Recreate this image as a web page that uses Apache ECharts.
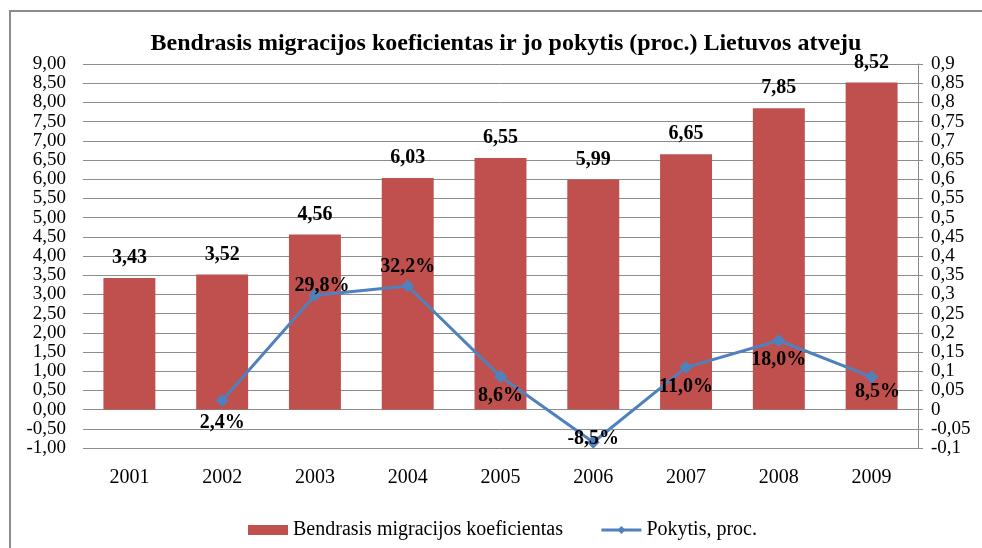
<!DOCTYPE html>
<html>
<head>
<meta charset="utf-8">
<script src="https://cdn.jsdelivr.net/npm/echarts@6/dist/echarts.min.js"></script>
<style>
  html, body { margin: 0; padding: 0; background: #fff; }
  #chart { width: 982px; height: 548px; }
</style>
</head>
<body>
<div id="chart"></div>
<script>
var years = ['2001', '2002', '2003', '2004', '2005', '2006', '2007', '2008', '2009'];
var koeficientas = [3.43, 3.52, 4.56, 6.03, 6.55, 5.99, 6.65, 7.85, 8.52];
var pokytis = [null, 0.024, 0.298, 0.322, 0.086, -0.085, 0.110, 0.180, 0.085];
// where each change label sits relative to its point
var pokytisLabelPos = [null, 'bottom', 'top', 'top', 'bottom', 'top', 'bottom', 'bottom', 'bottom'];

function comma(s) { return String(s).replace('.', ','); }

var lineData = pokytis.map(function (v, i) {
    if (v === null) return null;
    var item = { value: v, label: { position: pokytisLabelPos[i] } };
    if (i === 1) item.label.distance = 6;
    if (i === 2) { item.label.distance = -7; item.label.offset = [7, 0]; }
    if (i === 5) item.label.distance = -13;
    if (i === 8) { item.label.distance = -2; item.label.offset = [6, 0]; }
    return item;
});

var dom = document.getElementById('chart');
var myChart = echarts.init(dom);
var font = 'Liberation Serif';

var yLabel = {
    fontFamily: font, fontSize: 19, lineHeight: 12, color: '#000',
    showMinLabel: true, showMaxLabel: true, hideOverlap: false,
    textMargin: 0, minMargin: 0
};

var option = {
    animation: false,
    textStyle: { fontFamily: font },
    title: {
        text: 'Bendrasis migracijos koeficientas ir jo pokytis (proc.) Lietuvos atveju',
        left: 501, textAlign: 'center', top: 27,
        textStyle: { fontFamily: font, fontSize: 24, fontWeight: 'bold', color: '#000' }
    },
    legend: {
        top: 515, left: 243,
        itemWidth: 40, itemHeight: 10, itemGap: 37,
        textStyle: { fontFamily: font, fontSize: 20, color: '#000' },
        data: [
            { name: 'Bendrasis migracijos koeficientas', icon: 'rect' },
            { name: 'Pokytis, proc.', lineStyle: { width: 3 } }
        ]
    },
    graphic: [{
        type: 'rect', shape: { x: 10, y: 11, width: 990, height: 560 },
        style: { fill: 'none', stroke: '#8c8c8c', lineWidth: 2 }, silent: true
    }],
    grid: { left: 83, right: 64, top: 64, bottom: 100 },
    xAxis: {
        type: 'category', data: years,
        axisLine: { show: false }, axisTick: { show: false },
        axisLabel: { fontFamily: font, fontSize: 20, color: '#000', margin: 20 }
    },
    yAxis: [{
        type: 'value', min: -1, max: 9, interval: 0.5,
        axisLine: { show: false }, axisTick: { show: false },
        axisLabel: echarts.util.extend({ margin: 17,
            formatter: function (v) { return comma(v.toFixed(2)); } }, yLabel),
        splitLine: { lineStyle: { color: '#8c8c8c', width: 1 } }
    }, {
        type: 'value', min: -0.1, max: 0.9, interval: 0.05,
        axisLine: { show: true, lineStyle: { color: '#8c8c8c' } },
        axisTick: { show: true, length: 5, lineStyle: { color: '#8c8c8c' } },
        axisLabel: echarts.util.extend({ margin: 13,
            formatter: function (v) { return comma(parseFloat(v.toFixed(2))); } }, yLabel),
        splitLine: { show: false }
    }],
    series: [{
        name: 'Bendrasis migracijos koeficientas',
        type: 'bar', data: koeficientas, barWidth: '56%',
        itemStyle: { color: '#C0504D' },
        label: { show: true, position: 'top', distance: 10,
            fontFamily: font, fontSize: 20, fontWeight: 'bold', color: '#000',
            formatter: function (p) { return comma(p.value.toFixed(2)); } }
    }, {
        name: 'Pokytis, proc.',
        type: 'line', yAxisIndex: 1, data: lineData,
        symbol: 'diamond', symbolSize: 13,
        lineStyle: { color: '#4F81BD', width: 3 },
        itemStyle: { color: '#4F81BD' },
        label: { show: true, distance: 3,
            fontFamily: font, fontSize: 20, fontWeight: 'bold', color: '#000',
            formatter: function (p) { return comma((p.value * 100).toFixed(1)) + '%'; } }
    }]
};

if (option && typeof option === 'object') {
    myChart.setOption(option, true);
}
</script>
</body>
</html>
